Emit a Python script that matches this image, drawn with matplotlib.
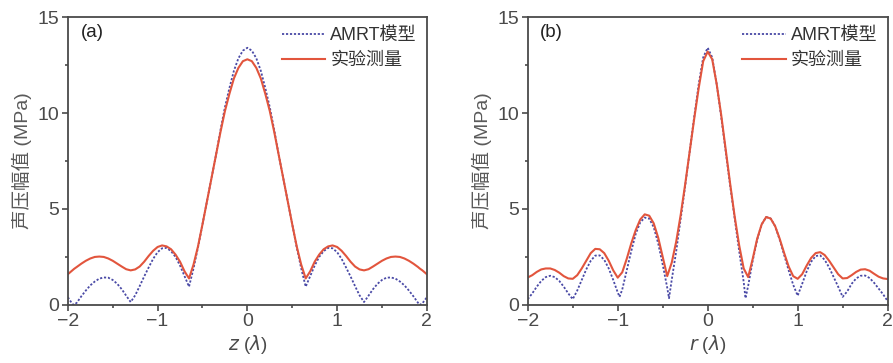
import matplotlib
matplotlib.use("Agg")
import matplotlib.pyplot as plt
from matplotlib.ticker import MultipleLocator

plt.rcParams['font.family'] = ['Liberation Sans', 'Noto Sans CJK SC', 'DejaVu Sans']
plt.rcParams['axes.unicode_minus'] = True

# panel (a): axial profile
xa = [-2.0, -1.95, -1.93, -1.9, -1.85, -1.8, -1.75, -1.7, -1.65, -1.6, -1.55, -1.5, -1.45, -1.4,
      -1.35, -1.3, -1.25, -1.2, -1.15, -1.1, -1.05, -1.0, -0.95, -0.9, -0.85, -0.8, -0.75, -0.7,
      -0.65, -0.6, -0.55, -0.5, -0.45, -0.4, -0.35, -0.3, -0.25, -0.2, -0.15, -0.1, -0.05, 0.0,
      0.05, 0.1, 0.15, 0.2, 0.25, 0.3, 0.35, 0.4, 0.45, 0.5, 0.55, 0.6, 0.65, 0.7, 0.75, 0.8,
      0.85, 0.9, 0.95, 1.0, 1.05, 1.1, 1.15, 1.2, 1.25, 1.3, 1.35, 1.4, 1.45, 1.5, 1.55, 1.6,
      1.65, 1.7, 1.75, 1.8, 1.85, 1.9, 1.92, 1.95, 2.0]
model_a = [0.4, 0.05, 0.0, 0.12, 0.45, 0.75, 1.02, 1.22, 1.37, 1.43, 1.42, 1.3, 1.1, 0.82,
           0.48, 0.15, 0.5, 0.98, 1.48, 1.95, 2.4, 2.75, 2.95, 2.97, 2.8, 2.5, 2.05, 1.5,
           0.95, 1.9, 3.0, 4.2, 5.4, 6.6, 7.8, 9.1, 10.3, 11.3, 12.2, 12.85, 13.25, 13.4,
           13.25, 12.85, 12.2, 11.3, 10.3, 9.1, 7.8, 6.6, 5.4, 4.2, 3.0, 1.9, 0.95, 1.5, 2.05, 2.5,
           2.8, 2.97, 2.95, 2.75, 2.4, 1.95, 1.48, 0.98, 0.5, 0.15, 0.48, 0.82, 1.1, 1.3, 1.42, 1.43,
           1.37, 1.22, 1.02, 0.75, 0.45, 0.12, 0.0, 0.08, 0.4]
meas_a = [1.6, 1.8, 1.88, 1.98, 2.15, 2.3, 2.42, 2.5, 2.52, 2.5, 2.42, 2.3, 2.15, 2.0,
          1.86, 1.8, 1.85, 2.0, 2.25, 2.55, 2.82, 3.02, 3.1, 3.05, 2.9, 2.62, 2.25, 1.75,
          1.38, 2.1, 3.05, 4.2, 5.4, 6.6, 7.8, 9.0, 10.1, 11.0, 11.8, 12.35, 12.7, 12.8,
          12.7, 12.35, 11.8, 11.0, 10.1, 9.0, 7.8, 6.6, 5.4, 4.2, 3.05, 2.1, 1.38, 1.75, 2.25, 2.62,
          2.9, 3.05, 3.1, 3.02, 2.82, 2.55, 2.25, 2.0, 1.85, 1.8, 1.86, 2.0, 2.15, 2.3, 2.42, 2.5,
          2.52, 2.5, 2.42, 2.3, 2.15, 1.98, 1.9, 1.8, 1.6]

# panel (b): radial profile
xb_model = [-2.0, -1.95, -1.9, -1.85, -1.8, -1.75, -1.7, -1.65, -1.6, -1.55, -1.5, -1.45, -1.4,
            -1.35, -1.3, -1.25, -1.2, -1.15, -1.1, -1.05, -1.0, -0.98, -0.95, -0.9, -0.85, -0.8,
            -0.75, -0.7, -0.65, -0.6, -0.55, -0.5, -0.45, -0.43, -0.4, -0.35, -0.3, -0.25, -0.2,
            -0.15, -0.1, -0.05, 0.0, 0.05, 0.1, 0.15, 0.2, 0.25, 0.3, 0.35, 0.4, 0.42, 0.45, 0.5,
            0.55, 0.6, 0.65, 0.7, 0.75, 0.8, 0.85, 0.9, 0.95, 1.0, 1.05, 1.1, 1.15, 1.2, 1.25, 1.3,
            1.35, 1.4, 1.45, 1.5, 1.55, 1.6, 1.65, 1.7, 1.75, 1.8, 1.85, 1.9, 1.95, 2.0]
model_b = [0.3, 0.6, 0.95, 1.25, 1.45, 1.52, 1.45, 1.25, 0.95, 0.6, 0.3, 0.75, 1.3,
           1.85, 2.3, 2.57, 2.58, 2.35, 1.9, 1.3, 0.65, 0.42, 0.8, 1.8, 2.8, 3.7,
           4.3, 4.55, 4.5, 4.05, 3.2, 2.1, 0.9, 0.35, 1.3, 2.8, 4.5, 6.2, 8.0,
           9.8, 11.5, 12.9, 13.4, 12.9, 11.5, 9.8, 8.0, 6.2, 4.5, 2.8, 1.2, 0.35, 1.0, 2.3,
           3.4, 4.2, 4.58, 4.5, 4.1, 3.4, 2.6, 1.8, 1.05, 0.48, 1.1, 1.75, 2.25, 2.55, 2.58, 2.35,
           1.95, 1.45, 0.95, 0.42, 0.7, 1.1, 1.38, 1.52, 1.53, 1.4, 1.15, 0.85, 0.55, 0.2]
xb_meas = [-2.0, -1.95, -1.9, -1.85, -1.8, -1.75, -1.7, -1.65, -1.6, -1.55, -1.5, -1.45, -1.4,
           -1.35, -1.3, -1.25, -1.2, -1.15, -1.1, -1.05, -1.0, -0.95, -0.9, -0.85, -0.8, -0.75,
           -0.7, -0.65, -0.6, -0.55, -0.5, -0.45, -0.4, -0.35, -0.3, -0.25, -0.2, -0.15, -0.1,
           -0.05, 0.0, 0.05, 0.1, 0.15, 0.2, 0.25, 0.3, 0.35, 0.4, 0.45, 0.5, 0.55, 0.6, 0.65,
           0.7, 0.75, 0.8, 0.85, 0.9, 0.95, 1.0, 1.05, 1.1, 1.15, 1.2, 1.25, 1.3, 1.35, 1.4, 1.45,
           1.5, 1.55, 1.6, 1.65, 1.7, 1.75, 1.8, 1.85, 1.9, 1.95, 2.0]
meas_b = [1.43, 1.55, 1.72, 1.85, 1.9, 1.9, 1.82, 1.68, 1.5, 1.38, 1.36, 1.55, 1.9,
          2.3, 2.7, 2.92, 2.9, 2.7, 2.3, 1.8, 1.42, 1.7, 2.4, 3.2, 3.9, 4.45,
          4.72, 4.65, 4.25, 3.5, 2.5, 1.5, 2.2, 3.3, 4.7, 6.3, 8.0, 9.7, 11.3,
          12.7, 13.2, 12.8, 11.5, 9.9, 8.1, 6.3, 4.6, 3.1, 1.9, 1.45, 2.4, 3.45, 4.2, 4.58,
          4.5, 4.1, 3.45, 2.7, 2.0, 1.5, 1.36, 1.6, 2.05, 2.45, 2.7, 2.75, 2.6, 2.3, 1.95, 1.6,
          1.38, 1.4, 1.55, 1.72, 1.84, 1.86, 1.78, 1.62, 1.47, 1.38, 1.35]

blue = '#4a4aa6'
red = '#e2553d'
grey = '#4a4a4a'

fig = plt.figure(figsize=(8.93, 3.63), dpi=100)
ax1 = fig.add_axes([0.076, 0.16, 0.402, 0.793])
ax2 = fig.add_axes([0.591, 0.16, 0.403, 0.793])

panels = [(ax1, xa, model_a, xa, meas_a, '(a)', 'z'),
          (ax2, xb_model, model_b, xb_meas, meas_b, '(b)', 'r')]

for ax, xm, ym, xe, ye, tag, var in panels:
    ax.plot(xm, ym, color=blue, linestyle=(0, (1.2, 1.0)), linewidth=1.3, label='AMRT模型')
    ax.plot(xe, ye, color=red, linewidth=1.5, label='实验测量')
    ax.set_xlim(-2, 2)
    ax.set_ylim(0, 15)
    ax.xaxis.set_major_locator(MultipleLocator(1))
    ax.xaxis.set_minor_locator(MultipleLocator(0.5))
    ax.yaxis.set_major_locator(MultipleLocator(5))
    ax.yaxis.set_minor_locator(MultipleLocator(2.5))
    ax.tick_params(which='both', direction='out', colors=grey, labelsize=14, width=1.2)
    ax.tick_params(which='major', length=4, pad=2)
    ax.tick_params(which='minor', length=2.5)
    for sp in ax.spines.values():
        sp.set_color(grey)
        sp.set_linewidth(1.3)
    ax.set_ylabel('声压幅值 (MPa)', fontsize=14, color='#5a5a5a', labelpad=4)
    ax.set_xlabel(r'$\it{' + var + r'}$ ($\lambda$)', fontsize=13.5, color=grey, labelpad=2)
    ax.text(0.035, 0.945, tag, transform=ax.transAxes, fontsize=13.5, color='#222222',
            va='center', ha='left')
    ax.legend(loc='upper right', frameon=False, fontsize=13, handlelength=2.4,
              handletextpad=0.3, labelspacing=0.45, borderaxespad=0.25,
              borderpad=0.3, labelcolor='#333333')

fig.savefig('out.png', dpi=100)
